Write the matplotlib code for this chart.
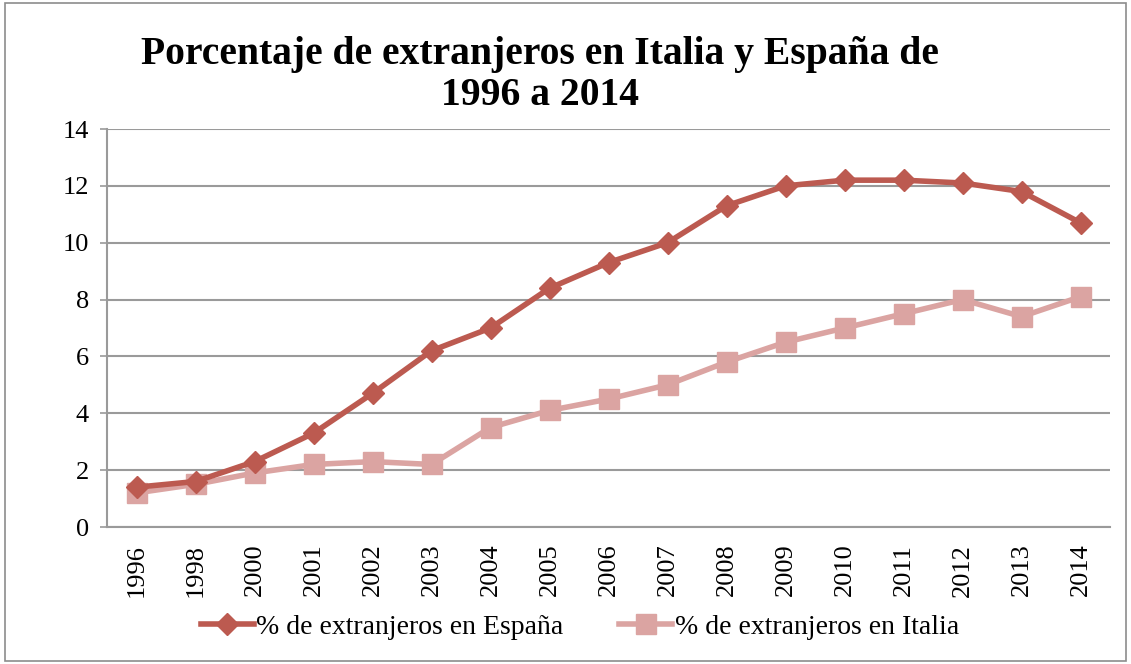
import matplotlib.pyplot as plt
from matplotlib.patches import Rectangle

# Data
years = ["1996", "1998", "2000", "2001", "2002", "2003", "2004", "2005", "2006",
         "2007", "2008", "2009", "2010", "2011", "2012", "2013", "2014"]
espana = [1.4, 1.6, 2.3, 3.3, 4.7, 6.2, 7.0, 8.4, 9.3, 10.0, 11.3, 12.0, 12.2, 12.2, 12.1, 11.8, 10.7]
italia = [1.2, 1.5, 1.9, 2.2, 2.3, 2.2, 3.5, 4.1, 4.5, 5.0, 5.8, 6.5, 7.0, 7.5, 8.0, 7.4, 8.1]

plt.rcParams['font.family'] = ['Liberation Serif', 'DejaVu Serif']

fig = plt.figure(figsize=(11.31, 6.64), dpi=100)
ax = fig.add_axes([107 / 1131, 1 - 527 / 664, (1110 - 107) / 1131, (527 - 129) / 664])

x = range(len(years))
ax.plot(x, espana, color='#BC5A50', linewidth=4, marker='D', markersize=11,
        label='% de extranjeros en España', zorder=4)
ax.plot(x, italia, color='#DBA4A2', linewidth=4, marker='s', markersize=14,
        label='% de extranjeros en Italia', zorder=3)

ax.set_xlim(-0.5, len(years) - 0.5)
ax.set_ylim(0, 14)
ax.set_yticks(range(0, 15, 2))
ax.set_xticks(list(x))
ax.set_xticklabels(years, rotation=90)
ax.tick_params(axis='both', labelsize=19, colors='#999999', labelcolor='black', length=5, width=1.2)
ax.tick_params(axis='x', length=0, pad=12)
ax.tick_params(axis='y', pad=8)
ax.grid(axis='y', color='#9a9a9a', linewidth=1.5)
ax.set_axisbelow(True)
for side in ['top', 'right']:
    ax.spines[side].set_visible(False)
for side in ['left', 'bottom']:
    ax.spines[side].set_color('#9a9a9a')
    ax.spines[side].set_linewidth(1.5)

fig.text(540 / 1131, 1 - 75 / 664, 'Porcentaje de extranjeros en Italia y España de\n1996 a 2014',
         ha='center', va='center', fontsize=28.5, fontweight='bold', linespacing=1.15)

ax.legend(loc='center', bbox_to_anchor=(580 / 1131, 1 - 627 / 664), bbox_transform=fig.transFigure,
          ncol=2, frameon=False, fontsize=20, handlelength=1.9, columnspacing=2.0, handletextpad=0.1)

# chart area border
fig.patches.append(Rectangle((0.004, 0.004), 0.992, 0.992, transform=fig.transFigure,
                             fill=False, edgecolor='#8c8c8c', linewidth=1.2))

fig.savefig('out.png', dpi=100)
